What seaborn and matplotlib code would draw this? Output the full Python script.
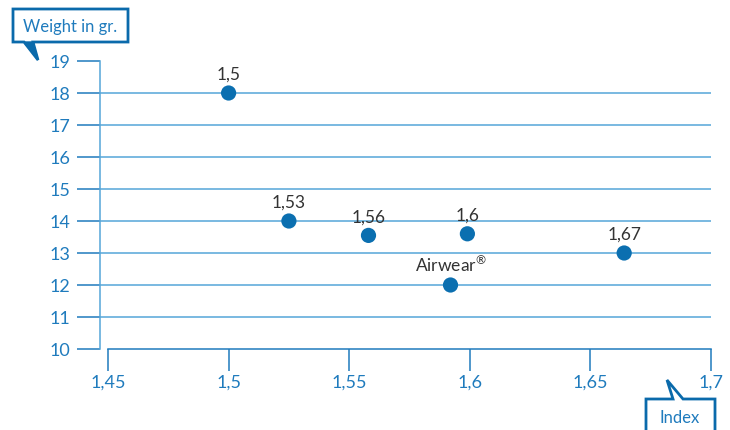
import matplotlib
matplotlib.use("Agg")
import matplotlib.pyplot as plt
from matplotlib.patches import Polygon
import seaborn as sns
import pandas as pd

# values
labels = ["1,5", "1,53", "1,56", "1,6", "1,67", "Airwear$^{®}$"]
index_values = [1.500, 1.525, 1.558, 1.599, 1.664, 1.592]
weights = [18.0, 14.0, 13.55, 13.6, 13.0, 12.0]

x_ticks = [1.45, 1.5, 1.55, 1.6, 1.65, 1.7]
x_tick_labels = ["1,45", "1,5", "1,55", "1,6", "1,65", "1,7"]
y_ticks = list(range(10, 20))

df = pd.DataFrame({"index": index_values, "weight": weights, "label": labels})

sns.set_style("white")
plt.rcParams["font.family"] = ["Lato", "DejaVu Sans"]
plt.rcParams["mathtext.fontset"] = "custom"
plt.rcParams["mathtext.rm"] = "Lato"
plt.rcParams["mathtext.default"] = "rm"

BLUE_DOT = "#0b6fb0"
BLUE_TXT = "#1f7bbd"
BLUE_LINE = "#55a6d8"
BLUE_BOX = "#0a6aab"

W, H = 730, 431
fig = plt.figure(figsize=(W / 100, H / 100), dpi=100)
ax = fig.add_axes([100 / W, 1 - 350 / H, (711 - 100) / W, (350 - 62) / H])

sns.scatterplot(data=df, x="index", y="weight", s=120, color=BLUE_DOT,
                edgecolor="none", ax=ax, zorder=5, clip_on=False)

for _, r in df.iterrows():
    ax.annotate(r["label"], (r["index"], r["weight"]), xytext=(0, 8),
                textcoords="offset points", ha="center", va="bottom",
                fontsize=12.5, color="#333333")

ax.set_xlim(1.45 - 8 / 2412, 1.7)
ax.set_ylim(10, 19)
ax.set_xticks(x_ticks)
ax.set_xticklabels(x_tick_labels)
ax.set_yticks(y_ticks)
ax.set_xlabel("")
ax.set_ylabel("")

# gridlines only for the inner values
ax.grid(axis="y", color=BLUE_LINE, lw=1.1)
ax.grid(axis="x", visible=False)
gl = ax.yaxis.get_gridlines()
gl[0].set_visible(False)
gl[-1].set_visible(False)

for s in ["top", "right"]:
    ax.spines[s].set_visible(False)
ax.spines["left"].set_color(BLUE_LINE)
ax.spines["left"].set_linewidth(1.1)
ax.spines["bottom"].set_color(BLUE_TXT)
ax.spines["bottom"].set_linewidth(1.1)
ax.spines["bottom"].set_bounds(1.45, 1.7)

ax.tick_params(axis="y", direction="out", length=16.5, width=1.1,
               color=BLUE_TXT, pad=5, labelsize=13, labelcolor=BLUE_TXT, left=True)
ax.tick_params(axis="x", direction="out", length=16, width=1.1,
               color=BLUE_TXT, pad=2, labelsize=13, labelcolor=BLUE_TXT, bottom=True)


def px(x, y):
    return (x / W, 1 - y / H)


# "Weight in gr." callout
weight_box = [px(13, 10), px(128, 10), px(128, 43), px(33, 43), px(38, 61),
              px(24, 43), px(13, 43)]
fig.add_artist(Polygon(weight_box, closed=True, transform=fig.transFigure,
                       facecolor="white", edgecolor=BLUE_BOX, lw=2, joinstyle="miter"))
fig.add_artist(Polygon([px(24, 43), px(33, 43), px(38, 61)], closed=True,
                       transform=fig.transFigure, facecolor=BLUE_BOX,
                       edgecolor=BLUE_BOX, lw=1))
fig.text(*px(70, 27), "Weight in gr.", ha="center", va="center",
         fontsize=12, color=BLUE_TXT)

# "Index" callout
index_box = [px(646, 440), px(646, 400), px(673, 400), px(667, 381),
             px(683, 400), px(715, 400), px(715, 440)]
fig.add_artist(Polygon(index_box, closed=True, transform=fig.transFigure,
                       facecolor="white", edgecolor=BLUE_BOX, lw=2, joinstyle="miter"))
fig.text(*px(680, 418), "Index", ha="center", va="center",
         fontsize=12, color=BLUE_TXT)

fig.savefig("out.png", dpi=100)
